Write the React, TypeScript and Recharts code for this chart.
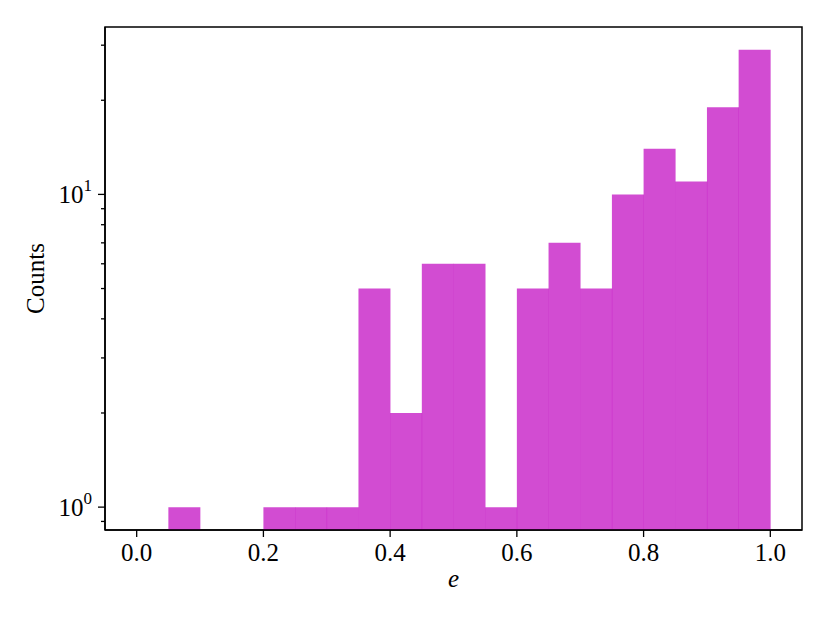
import React from "react";
import { BarChart, Bar, XAxis, YAxis, ReferenceArea } from "recharts";

// histogram of e: 20 bins of width 0.05 between 0 and 1
const binStarts = [0, 0.05, 0.1, 0.15, 0.2, 0.25, 0.3, 0.35, 0.4, 0.45, 0.5, 0.55, 0.6, 0.65, 0.7, 0.75, 0.8, 0.85, 0.9, 0.95];
const counts = [0, 1, 0, 0, 1, 1, 1, 5, 2, 6, 6, 1, 5, 7, 5, 10, 14, 11, 19, 29];
const binWidth = 0.05;

const xTicks = [0, 0.2, 0.4, 0.6, 0.8, 1.0];
const yTicks = [0.9, 1, 2, 3, 4, 5, 6, 7, 8, 9, 10, 20, 30];
const xDomain = [-0.05, 1.05];
const yDomain = [0.845, 34.3];

// log axis can't show empty bins
const data = counts
  .map((c, i) => ({ e: binStarts[i] + binWidth / 2, count: c }))
  .filter((d) => d.count > 0);

const FONT = "'Liberation Serif', 'DejaVu Serif', serif";
const FONT_SIZE = 25;
const TICK_SIZE = 7;
const TICK_MARGIN = 6;

function LogTick(props: any) {
  const { x, y, payload } = props;
  const v = payload.value;
  const exp = Math.log10(v);
  const major = Math.abs(exp - Math.round(exp)) < 1e-9;
  const axisX = x + TICK_SIZE + TICK_MARGIN;
  return (
    <g>
      <line x1={axisX - (major ? 7 : 4)} x2={axisX} y1={y} y2={y} stroke="#000" strokeWidth={1.3} />
      {major && (
        <text x={x} y={y} dy={8.5} textAnchor="end" fontSize={FONT_SIZE} fontFamily={FONT} fill="#000">
          10
          <tspan dy={-12} fontSize={17}>{Math.round(exp)}</tspan>
        </text>
      )}
    </g>
  );
}

export default function App() {
  return (
    <div style={{ position: "absolute", left: 0, top: 0, width: 830, height: 623, background: "#fff" }}>
      <BarChart
        width={830}
        height={623}
        data={data}
        margin={{ top: 27, right: 28, bottom: 28, left: 20 }}
        barCategoryGap={0}
        barGap={0}
      >
        <XAxis
          dataKey="e"
          type="number"
          domain={xDomain}
          ticks={xTicks}
          interval={0}
          allowDataOverflow
          height={65}
          tickSize={TICK_SIZE}
          tickMargin={6}
          tickFormatter={(v: number) => v.toFixed(1)}
          tick={{ fill: "#000", fontSize: FONT_SIZE, fontFamily: FONT }}
          tickLine={{ stroke: "#000", strokeWidth: 1.3 }}
          axisLine={{ stroke: "#000", strokeWidth: 1.5 }}
          label={{
            content: (p: any) => (
              <text
                x={p.viewBox.x + p.viewBox.width / 2}
                y={p.viewBox.y + 57}
                textAnchor="middle"
                fontSize={FONT_SIZE}
                fontStyle="italic"
                fontFamily={FONT}
                fill="#000"
              >
                e
              </text>
            ),
          }}
        />
        <YAxis
          type="number"
          scale="log"
          domain={yDomain}
          allowDataOverflow
          ticks={yTicks}
          interval={0}
          width={85}
          tickSize={TICK_SIZE}
          tickMargin={TICK_MARGIN}
          tickLine={false}
          tick={<LogTick />}
          axisLine={{ stroke: "#000", strokeWidth: 1.5 }}
          label={{
            content: (p: any) => {
              const cx = p.viewBox.x + 15;
              const cy = p.viewBox.y + p.viewBox.height / 2;
              return (
                <text
                  x={cx}
                  y={cy}
                  transform={`rotate(-90 ${cx} ${cy})`}
                  textAnchor="middle"
                  dominantBaseline="central"
                  fontSize={FONT_SIZE}
                  fontFamily={FONT}
                  fill="#000"
                >
                  Counts
                </text>
              );
            },
          }}
        />
        <Bar dataKey="count" fill="#BF00BF" fillOpacity={0.7} isAnimationActive={false} />
        {/* full frame around the plot area */}
        <ReferenceArea
          x1={xDomain[0]}
          x2={xDomain[1]}
          y1={yDomain[0]}
          y2={yDomain[1]}
          fill="none"
          fillOpacity={0}
          stroke="#000"
          strokeWidth={1.5}
          strokeOpacity={1}
          ifOverflow="visible"
        />
      </BarChart>
    </div>
  );
}
